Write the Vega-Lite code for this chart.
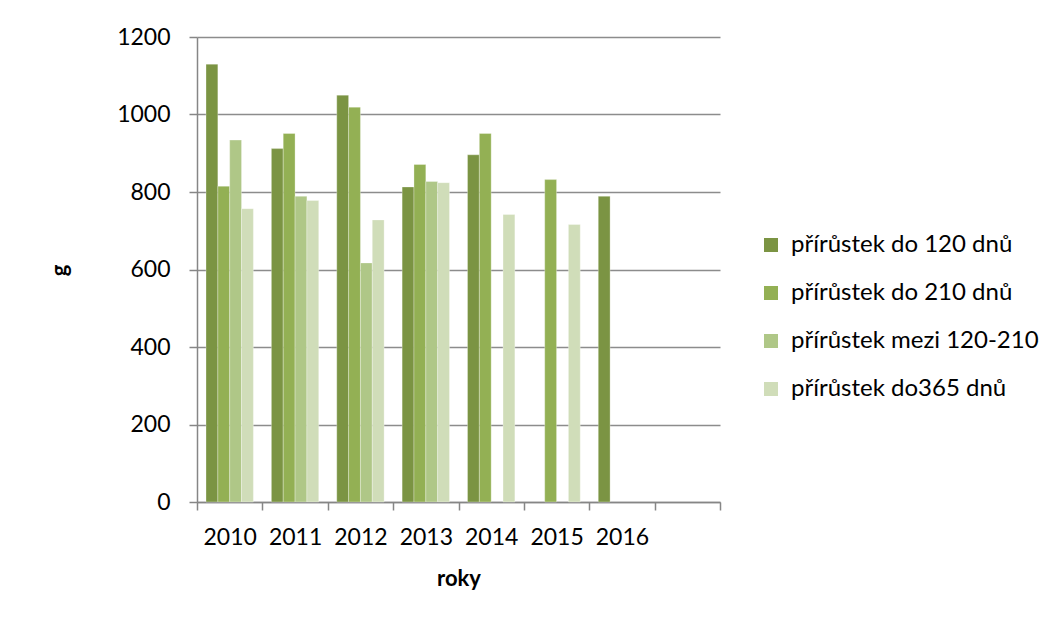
{
  "$schema": "https://vega.github.io/schema/vega-lite/v6.json",
  "width": 523,
  "height": 465,
  "autosize": {"type": "none"},
  "padding": {"left": 197, "top": 37, "right": 330, "bottom": 116},
  "background": "#ffffff",
  "config": {
    "font": "Lato",
    "view": {"stroke": null},
    "axis": {
      "labelColor": "#000000",
      "titleColor": "#000000",
      "domainColor": "#868686",
      "tickColor": "#868686",
      "domainWidth": 1.5,
      "tickWidth": 1.5,
      "labelFontSize": 23,
      "titleFontSize": 22,
      "titleFontWeight": "bold"
    }
  },
  "data": {
    "values": [
      {"rok": "2010", "ukazatel": "přírůstek do 120 dnů", "g": 1130},
      {"rok": "2010", "ukazatel": "přírůstek do 210 dnů", "g": 815},
      {"rok": "2010", "ukazatel": "přírůstek mezi 120-210", "g": 934},
      {"rok": "2010", "ukazatel": "přírůstek do365 dnů", "g": 757},
      {"rok": "2011", "ukazatel": "přírůstek do 120 dnů", "g": 912},
      {"rok": "2011", "ukazatel": "přírůstek do 210 dnů", "g": 951},
      {"rok": "2011", "ukazatel": "přírůstek mezi 120-210", "g": 789},
      {"rok": "2011", "ukazatel": "přírůstek do365 dnů", "g": 778},
      {"rok": "2012", "ukazatel": "přírůstek do 120 dnů", "g": 1050},
      {"rok": "2012", "ukazatel": "přírůstek do 210 dnů", "g": 1019},
      {"rok": "2012", "ukazatel": "přírůstek mezi 120-210", "g": 617},
      {"rok": "2012", "ukazatel": "přírůstek do365 dnů", "g": 728},
      {"rok": "2013", "ukazatel": "přírůstek do 120 dnů", "g": 813},
      {"rok": "2013", "ukazatel": "přírůstek do 210 dnů", "g": 871},
      {"rok": "2013", "ukazatel": "přírůstek mezi 120-210", "g": 827},
      {"rok": "2013", "ukazatel": "přírůstek do365 dnů", "g": 824},
      {"rok": "2014", "ukazatel": "přírůstek do 120 dnů", "g": 896},
      {"rok": "2014", "ukazatel": "přírůstek do 210 dnů", "g": 951},
      {"rok": "2014", "ukazatel": "přírůstek do365 dnů", "g": 742},
      {"rok": "2015", "ukazatel": "přírůstek do 210 dnů", "g": 832},
      {"rok": "2015", "ukazatel": "přírůstek do365 dnů", "g": 716},
      {"rok": "2016", "ukazatel": "přírůstek do 120 dnů", "g": 789}
    ]
  },
  "mark": {"type": "bar", "stroke": "#ffffff", "strokeWidth": 0.6, "strokeOpacity": 0.5},
  "encoding": {
    "x": {
      "field": "rok",
      "type": "nominal",
      "title": "roky",
      "scale": {
        "domain": ["2010", "2011", "2012", "2013", "2014", "2015", "2016", " "],
        "paddingInner": 0,
        "paddingOuter": 0
      },
      "axis": {
        "labelAngle": 0,
        "tickBand": "extent",
        "tickSize": 8,
        "labelPadding": 16,
        "titleBaseline": "alphabetic",
        "titleY": 83,
        "titleX": 261.5,
        "titleAlign": "center"
      }
    },
    "xOffset": {
      "field": "ukazatel",
      "type": "nominal",
      "scale": {
        "domain": ["přírůstek do 120 dnů", "přírůstek do 210 dnů", "přírůstek mezi 120-210", "přírůstek do365 dnů"],
        "paddingInner": 0,
        "paddingOuter": 0.76
      }
    },
    "y": {
      "field": "g",
      "type": "quantitative",
      "title": "g",
      "scale": {"domain": [0, 1200], "nice": false},
      "axis": {
        "values": [0, 200, 400, 600, 800, 1000, 1200],
        "format": "d",
        "grid": true,
        "gridColor": "#8c8c8c",
        "gridWidth": 1.5,
        "tickSize": 8,
        "labelPadding": 19,
        "titleAngle": -90,
        "titleAlign": "center",
        "titleBaseline": "alphabetic",
        "titleX": -131,
        "titleY": 233
      }
    },
    "color": {
      "field": "ukazatel",
      "type": "nominal",
      "scale": {
        "domain": ["přírůstek do 120 dnů", "přírůstek do 210 dnů", "přírůstek mezi 120-210", "přírůstek do365 dnů"],
        "range": ["#7b9443", "#93b054", "#afc787", "#d0ddb9"]
      },
      "legend": {
        "title": null,
        "orient": "none",
        "legendX": 562,
        "legendY": 196,
        "symbolType": "square",
        "symbolSize": 196,
        "symbolStrokeWidth": 0,
        "labelFontSize": 24,
        "labelColor": "#000000",
        "labelOffset": 8,
        "rowPadding": 24,
        "padding": 0,
        "labelLimit": 400
      }
    }
  }
}
